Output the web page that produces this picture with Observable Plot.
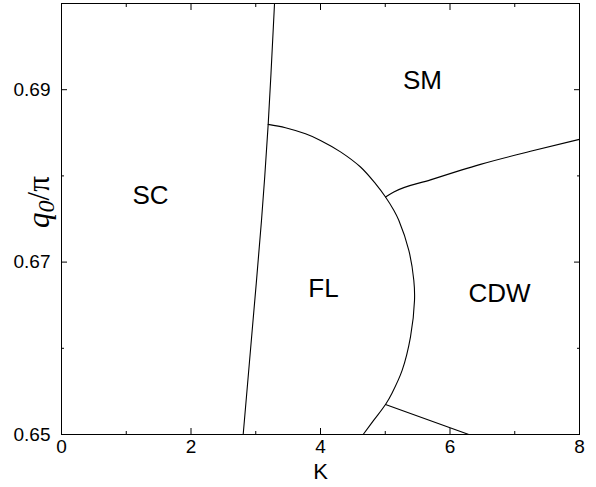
<!DOCTYPE html>
<html><head><meta charset="utf-8">
<script src="https://cdn.jsdelivr.net/npm/d3@7"></script>
<script src="https://cdn.jsdelivr.net/npm/@observablehq/plot@0.6"></script>
<style>body{margin:0;background:#fff}</style>
</head><body><div id="chart"></div>
<script>
// Phase boundaries (K, q0/pi)
const scK  = [3.290, 3.192, 3.089, 2.945, 2.806];
const scQ  = [0.700, 0.68598, 0.67485, 0.66209, 0.650];
const flK  = [3.192, 3.459, 3.768, 4.000, 4.309, 4.618, 4.849, 5.004, 5.132, 5.209, 5.364, 5.441, 5.452, 5.390, 5.262, 5.104, 5.004, 4.823, 4.659];
const flQ  = [0.68598, 0.68559, 0.68488, 0.68412, 0.68279, 0.68103, 0.67910, 0.67755, 0.67601, 0.67485, 0.67137, 0.66789, 0.66557, 0.66132, 0.65746, 0.65479, 0.65348, 0.65166, 0.650];
const smK  = [5.004, 5.132, 5.699, 6.471, 7.243, 8.0];
const smQ  = [0.67755, 0.67813, 0.67954, 0.68134, 0.68285, 0.68424];
const cdwK = [5.004, 6.290];
const cdwQ = [0.65348, 0.650];

// Phase region labels
const phaseNames = ["SC", "SM", "FL", "CDW"];
const phaseK = [1.375, 5.575, 4.046, 6.764];
const phaseQ = [0.67775, 0.69108, 0.6669, 0.66638];

// Ticks
const xMajor = [0, 2, 4, 6, 8];
const xMinor = [1, 3, 5, 7];
const yMajor = [0.65, 0.67, 0.69];
const yMinor = [0.66, 0.68];
const yLabels = ["0.65", "0.67", "0.69"];

const pts = (xs, ys) => xs.map((x, i) => ({x, y: ys[i]}));

function tickAxis(dim, anchor, values, size) {
  const o = {anchor, ticks: values, tickSize: size, fill: null, label: null, stroke: "#000", strokeWidth: 1};
  o["inset" + anchor[0].toUpperCase() + anchor.slice(1)] = size;
  return dim === "x" ? Plot.axisX(o) : Plot.axisY(o);
}

const plot = Plot.plot({
  width: 596,
  height: 487,
  marginTop: 3,
  marginBottom: 53,
  marginLeft: 61,
  marginRight: 17,
  style: {fontFamily: "Liberation Sans, Arial, sans-serif", fontSize: "19px", background: "#fff", color: "#000"},
  x: {domain: [0, 8]},
  y: {domain: [0.65, 0.70]},
  marks: [
    Plot.line(pts(scK, scQ), {x: "x", y: "y", stroke: "#000", strokeWidth: 1.1, curve: "catmull-rom"}),
    Plot.line(pts(flK, flQ), {x: "x", y: "y", stroke: "#000", strokeWidth: 1.1, curve: "catmull-rom"}),
    Plot.line(pts(smK, smQ), {x: "x", y: "y", stroke: "#000", strokeWidth: 1.1, curve: "monotone-x"}),
    Plot.line(pts(cdwK, cdwQ), {x: "x", y: "y", stroke: "#000", strokeWidth: 1.1}),
    Plot.text(phaseNames, {x: phaseK, y: phaseQ, text: d => d, fontSize: 26, fill: "#000"}),
    tickAxis("x", "bottom", xMajor, 6),
    tickAxis("x", "bottom", xMinor, 3),
    tickAxis("x", "top", xMajor, 6),
    tickAxis("x", "top", xMinor, 3),
    tickAxis("y", "left", yMajor, 6),
    tickAxis("y", "left", yMinor, 3),
    tickAxis("y", "right", yMajor, 6),
    tickAxis("y", "right", yMinor, 3),
    Plot.axisX({anchor: "bottom", ticks: xMajor, tickSize: 0, tickPadding: 5, label: null, fontSize: 19, tickFormat: d => String(d)}),
    Plot.axisY({anchor: "left", ticks: yMajor, tickSize: 0, tickPadding: 11, label: null, fontSize: 19, tickFormat: (d, i) => yLabels[i]}),
    Plot.text(["K"], {frameAnchor: "bottom", lineAnchor: "middle", dy: 37, fontSize: 22, fill: "#000"}),
    Plot.frame({stroke: "#000", strokeWidth: 1})
  ]
});

const svg = d3.select(plot);
const lab = svg.append("text")
  .attr("transform", "translate(49,202) rotate(-90)")
  .attr("text-anchor", "middle")
  .attr("font-family", "Liberation Serif, Times New Roman, serif")
  .attr("font-size", 31)
  .attr("fill", "#000");
lab.append("tspan").attr("font-style", "italic").text("q");
lab.append("tspan").attr("font-style", "italic").attr("font-size", 24).attr("dy", 5).text("0");
lab.append("tspan").attr("dy", -5).text("/π");

document.getElementById("chart").appendChild(plot);
</script>
</body></html>
